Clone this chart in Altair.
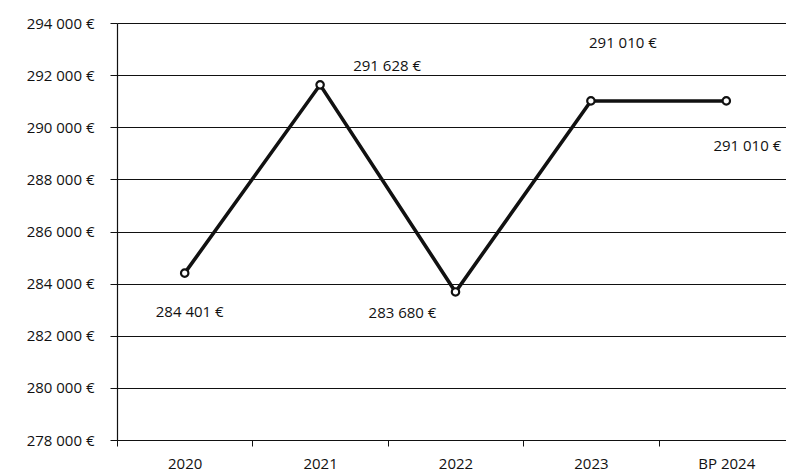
import altair as alt
import pandas as pd

# Annual amounts (euros)
years = ["2020", "2021", "2022", "2023", "BP 2024"]
amounts = [284401, 291628, 283680, 291010, 291010]

# Value axis ticks
y_ticks = [278000, 280000, 282000, 284000, 286000, 288000, 290000, 292000, 294000]

df = pd.DataFrame({"annee": years, "montant": amounts})

FONT = "Open Sans"
INK = "#111111"

# Label placement around each point (dx, dy in pixels)
label_offsets = {
    "2020": (5, 39),
    "2021": (67, -19),
    "2022": (-53, 21),
    "2023": (32, -58),
    "BP 2024": (21, 45),
}

euro_axis = "replace(format(datum.value, ',d'), ',', ' ') + ' €'"

x_enc = alt.X(
    "annee:N",
    sort=years,
    scale=alt.Scale(type="band", range=[0, 677], paddingInner=0, paddingOuter=0),
    axis=alt.Axis(
        title=None,
        labelAngle=0,
        tickBand="extent",
        tickSize=6,
        tickColor=INK,
        domainColor=INK,
        domainWidth=1.2,
        labelFont=FONT,
        labelFontSize=15,
        labelColor=INK,
        labelPadding=10,
        grid=False,
    ),
)

y_enc = alt.Y(
    "montant:Q",
    scale=alt.Scale(domain=[278000, 294000], nice=False, zero=False),
    axis=alt.Axis(
        title=None,
        values=y_ticks,
        labelExpr=euro_axis,
        grid=True,
        gridColor=INK,
        gridWidth=1.2,
        tickSize=7,
        tickColor=INK,
        domainColor=INK,
        domainWidth=1.2,
        labelFont=FONT,
        labelFontSize=15,
        labelColor=INK,
        labelPadding=16,
    ),
)

base = alt.Chart(df).encode(x=x_enc, y=y_enc)

line = base.mark_line(color=INK, strokeWidth=3.6)
points = base.mark_point(
    shape="circle", filled=True, fill="white", stroke=INK, strokeWidth=2.2, size=55, opacity=1
)

labels = []
for year, (dx, dy) in label_offsets.items():
    labels.append(
        base.transform_filter(alt.datum.annee == year)
        .transform_calculate(
            etiquette="replace(format(datum.montant, ',d'), ',', ' ') + ' €'"
        )
        .mark_text(
            dx=dx,
            dy=dy,
            font=FONT,
            fontSize=15,
            color=INK,
            align="center",
            baseline="middle",
        )
        .encode(text="etiquette:N")
    )

chart = (
    alt.layer(line, points, *labels)
    .properties(
        width=669,
        height=417,
        autosize=alt.AutoSizeParams(type="none"),
        padding={"left": 117, "top": 23, "right": 0, "bottom": 34},
        background="white",
    )
    .configure_view(stroke=None)
)

chart.save("out.html", embed_options={"renderer": "svg", "actions": False})
